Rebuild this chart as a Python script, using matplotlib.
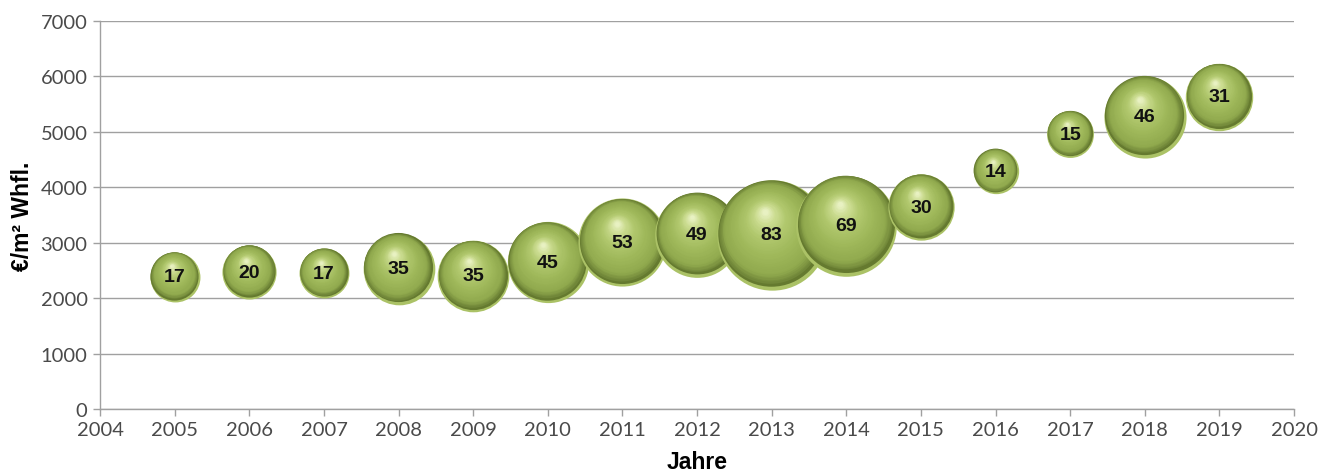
import matplotlib
matplotlib.use("Agg")
import matplotlib.pyplot as plt
import matplotlib.transforms as mtransforms
import numpy as np
from matplotlib.colors import LinearSegmentedColormap

# years, price per m² living space, number of sales (bubble size)
years = [2005, 2006, 2007, 2008, 2009, 2010, 2011, 2012, 2013, 2014, 2015, 2016, 2017, 2018, 2019]
prices = [2390, 2470, 2450, 2530, 2400, 2650, 3010, 3140, 3140, 3310, 3640, 4290, 4960, 5270, 5630]
counts = [17, 20, 17, 35, 35, 45, 53, 49, 83, 69, 30, 14, 15, 46, 31]

SIZE_SCALE = 76.0   # points^2 per sale
N_LAYERS = 40

shade = LinearSegmentedColormap.from_list(
    "sphere",
    [(0.0, "#718739"), (0.12, "#91aa4e"), (0.4, "#a0b95b"), (0.65, "#b1c86e"),
     (0.85, "#ccdd92"), (1.0, "#e8f1c2")])

fig = plt.figure(figsize=(13.36, 4.77), dpi=100)
ax = fig.add_axes([0.0749, 0.1405, 0.8937, 0.8134])


def shifted(dx, dy):
    return mtransforms.offset_copy(ax.transData, fig=fig, x=dx, y=dy, units="points")


for i, (x, y, n) in enumerate(zip(years, prices, counts)):
    s = n * SIZE_SCALE
    r = np.sqrt(s) / 2  # radius in points
    z = 3 + i
    # light rim at the bottom, then the dark shadow band
    ax.scatter([x], [y], s=s, color="#abc266", zorder=z, linewidths=0)
    ax.scatter([x], [y], s=s * 0.965 ** 2, color="#657a2f", zorder=z, linewidths=0,
               transform=shifted(-0.01 * r, 0.035 * r))
    for k in range(N_LAYERS):
        t = k / (N_LAYERS - 1)
        frac = 0.93 * (1 - t) + 0.05 * t
        ax.scatter([x], [y], s=s * frac ** 2, color=shade(t), zorder=z, linewidths=0,
                   transform=shifted(-0.10 * r * t - 0.03 * r, 0.36 * r * t + 0.06 * r))
    ax.text(x, y, str(n), ha="center", va="center", fontsize=14, fontweight="bold",
            family=["Liberation Sans", "DejaVu Sans"], color="#111111", zorder=z + 0.5)

ax.set_xlim(2004, 2020)
ax.set_ylim(0, 7000)
ax.set_xticks(range(2004, 2021))
ax.set_yticks(range(0, 7001, 1000))
ax.yaxis.grid(True, color="#a0a0a0", linewidth=1.0)
ax.set_axisbelow(True)

for side in ("top", "right"):
    ax.spines[side].set_visible(False)
for side in ("left", "bottom"):
    ax.spines[side].set_color("#a0a0a0")
    ax.spines[side].set_linewidth(1.0)

ax.tick_params(axis="both", direction="out", length=5, width=1.0, color="#a0a0a0",
               labelsize=14.5, labelcolor="#4a4a4a", pad=4)
for lab in ax.get_xticklabels() + ax.get_yticklabels():
    lab.set_family(["Lato", "DejaVu Sans"])

ax.set_xlabel("Jahre", fontsize=16.5, fontweight="bold",
              family=["Liberation Sans", "DejaVu Sans"], labelpad=8)
ax.set_ylabel("€/m² Whfl.", fontsize=16.5, fontweight="bold",
              family=["Liberation Sans", "DejaVu Sans"], labelpad=5)

fig.savefig("out.png", dpi=100)
